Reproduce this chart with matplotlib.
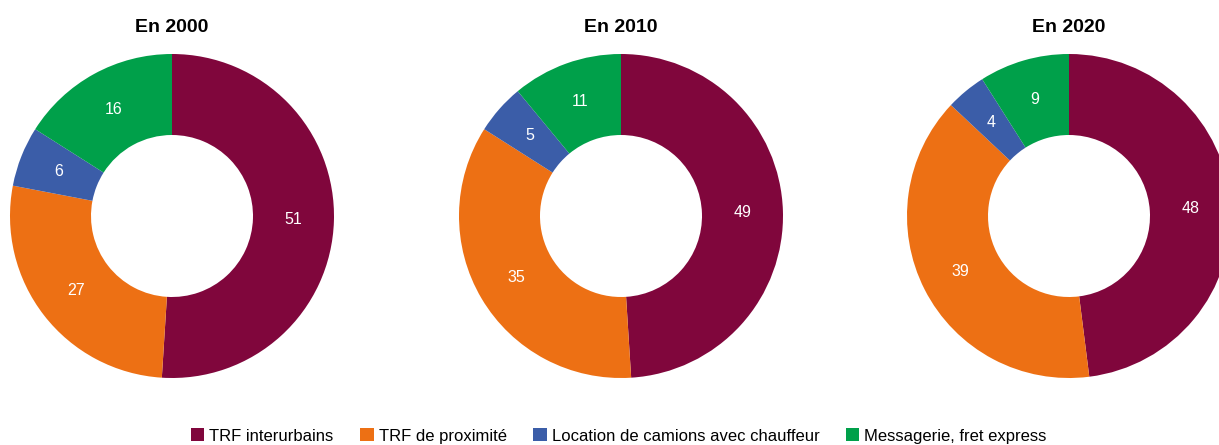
import matplotlib
matplotlib.use("Agg")
import matplotlib.pyplot as plt
from matplotlib.patches import Patch

plt.rcParams["font.family"] = ["Liberation Sans", "DejaVu Sans"]

CATEGORIES = ["TRF interurbains", "TRF de proximité",
              "Location de camions avec chauffeur", "Messagerie, fret express"]
COLORS = ["#80063c", "#ed7014", "#3b5da8", "#00a04a"]

YEARS = ["En 2000", "En 2010", "En 2020"]
VALUES_2000 = [51, 27, 6, 16]
VALUES_2010 = [49, 35, 5, 11]
VALUES_2020 = [48, 39, 4, 9]
ALL_VALUES = [VALUES_2000, VALUES_2010, VALUES_2020]

W, H = 1219, 445
fig = plt.figure(figsize=(W / 100, H / 100), dpi=100)

centers_x = [172, 621, 1069]
center_y = 216
radius = 162

for cx, title, vals in zip(centers_x, YEARS, ALL_VALUES):
    ax = fig.add_axes([(cx - radius) / W, (H - center_y - radius) / H,
                       2 * radius / W, 2 * radius / H])
    wedges, texts = ax.pie(vals, colors=COLORS, startangle=90, counterclock=False,
                           labels=[str(v) for v in vals], labeldistance=0.75,
                           radius=1.0, wedgeprops=dict(width=0.5, linewidth=0),
                           textprops=dict(color="white", fontsize=11.5))
    for t in texts:
        t.set_ha("center")
        t.set_va("center")
    ax.set_xlim(-1, 1)
    ax.set_ylim(-1, 1)
    ax.set_aspect("equal")
    ax.axis("off")
    fig.text(cx / W, 1 - 28 / H, title, ha="center", va="center",
             fontsize=14, fontweight="bold")

handles = [Patch(facecolor=c, edgecolor="none") for c in COLORS]
fig.legend(handles, CATEGORIES, loc="center", ncol=4,
           bbox_to_anchor=(619 / W, 1 - 436 / H), frameon=False,
           fontsize=12, handlelength=0.8, handleheight=0.8,
           handletextpad=0.3, columnspacing=1.6)

fig.savefig("out.png", dpi=100)
